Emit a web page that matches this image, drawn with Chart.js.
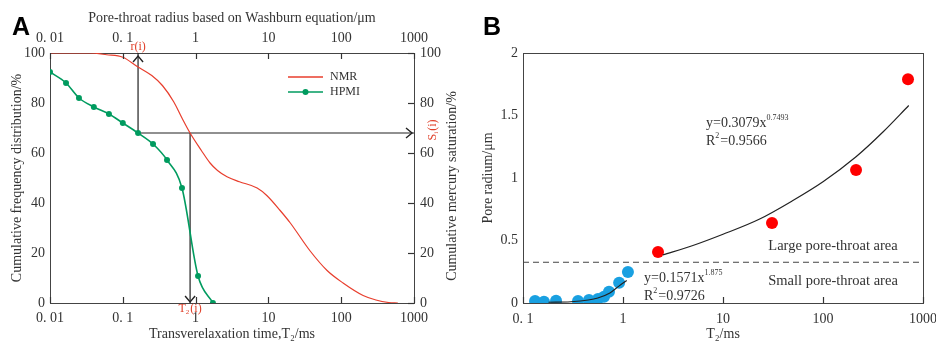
<!DOCTYPE html>
<html>
<head>
<meta charset="UTF-8">
<title>NMR T2 vs pore-throat radius</title>
<script src="https://cdn.jsdelivr.net/npm/chart.js@4.4.0/dist/chart.umd.min.js"></script>
<style>
    body { margin: 0; background: #fff; }
    #wrapA { position: absolute; left: 0; top: 0; width: 468px; height: 345px; }
    #wrapB { position: absolute; left: 470px; top: 0; width: 466px; height: 345px; }
</style>
</head>
<body>
<div id="wrapA"><canvas id="chartA" width="468" height="345"></canvas></div>
<div id="wrapB"><canvas id="chartB" width="466" height="345"></canvas></div>

<script>
    // ---- panel A ----
    var aTicks = [0.01, 0.1, 1, 10, 100, 1000];
    var aTickLabels = ['0. 01', '0. 1', '1', '10', '100', '1000'];
    var aYTicks = [0, 20, 40, 60, 80, 100];
    var nmrT2 = [0.01, 0.02, 0.035, 0.06, 0.1, 0.16, 0.25, 0.35, 0.5, 0.65, 0.84, 1.2, 1.58, 2.0, 2.7, 4, 7, 9.5, 14.5, 20, 37, 64, 106, 200, 300, 450, 600];
    var nmrCum = [100, 100, 100, 99.3, 98.3, 94.5, 91, 87, 80.5, 74, 68, 61, 56, 53, 50.5, 48.5, 46, 43, 37, 32, 21, 13, 8, 3, 1.2, 0.2, 0];
    var hpmiRadius = [0.01, 0.0166, 0.025, 0.04, 0.0645, 0.1, 0.162, 0.26, 0.405, 0.65, 1.08, 1.73];
    var hpmiSat = [92.4, 88, 82, 78.4, 75.6, 72, 68, 63.6, 57.2, 46, 10.8, 0];
    var riValue = 0.162;   // r(i)
    var t2iValue = 0.84;   // T2(i)
    var siValue = 68;      // Si(i)

    // ---- panel B ----
    var bTicks = [0.1, 1, 10, 100, 1000];
    var bTickLabels = ['0. 1', '1', '10', '100', '1000'];
    var smallT2 = [0.132, 0.162, 0.214, 0.355, 0.457, 0.562, 0.646, 0.724, 0.915, 1.12];
    var smallR = [0.016, 0.010, 0.018, 0.016, 0.024, 0.032, 0.05, 0.09, 0.162, 0.248];
    var largeT2 = [2.24, 30.9, 214, 708];
    var largeR = [0.408, 0.64, 1.064, 1.79];
    var smallFitT2 = [0.18, 0.3, 0.45, 0.56, 0.74, 0.91, 1.09];
    var smallFitR = [0.006, 0.01, 0.024, 0.04, 0.08, 0.135, 0.18];
    var largeFitT2 = [2.5, 5, 10, 23, 50, 100, 214, 400, 720];
    var largeFitR = [0.385, 0.46, 0.55, 0.67, 0.82, 0.97, 1.17, 1.37, 1.58];
    var boundaryR = 0.326;

    var SERIF = '"Liberation Serif", "Times New Roman", serif';
    var TXT = '#333';
    var AXIS = '#444';

    Chart.defaults.font.family = SERIF;
    Chart.defaults.font.size = 14;
    Chart.defaults.color = TXT;

    function pts(xs, ys) {
        var out = [];
        for (var i = 0; i < xs.length; i++) out.push({x: xs[i], y: ys[i]});
        return out;
    }

    function fixSize(prop, val) {
        return function (scale) {
            scale[prop] = val;
            scale.paddingLeft = 0; scale.paddingRight = 0;
            scale.paddingTop = 0; scale.paddingBottom = 0;
        };
    }

    function logAxis(pos, ticks, labels, size, pad, title, titlePad) {
        return {
            type: 'logarithmic', position: pos,
            min: ticks[0], max: ticks[ticks.length - 1],
            afterBuildTicks: function (s) { s.ticks = ticks.map(function (v) { return {value: v}; }); },
            afterFit: fixSize('height', size),
            ticks: {
                padding: pad, maxRotation: 0, autoSkip: false,
                callback: function (v) { var i = ticks.indexOf(v); return i < 0 ? '' : labels[i]; }
            },
            grid: {drawOnChartArea: false, drawTicks: false, color: AXIS},
            border: {color: AXIS, width: 1},
            title: {display: !!title, text: title, padding: titlePad}
        };
    }

    // short tick marks pointing into the plot: [scaleId, side, values]
    function drawInnerTicks(chart, list) {
        var ctx = chart.ctx, a = chart.chartArea;
        ctx.save();
        ctx.strokeStyle = '#333';
        ctx.lineWidth = 1.2;
        ctx.setLineDash([]);
        list.forEach(function (item) {
            var s = chart.scales[item[0]], side = item[1];
            item[2].forEach(function (v) {
                var p = Math.round(s.getPixelForValue(v)) + 0.5;
                ctx.beginPath();
                if (side === 'bottom') { ctx.moveTo(p, a.bottom); ctx.lineTo(p, a.bottom - 6); }
                if (side === 'top') { ctx.moveTo(p, a.top); ctx.lineTo(p, a.top + 6); }
                if (side === 'right') { ctx.moveTo(a.right, p); ctx.lineTo(a.right - 6, p); }
                ctx.stroke();
            });
        });
        ctx.restore();
    }

    function chevron(ctx, x, y, dir) {
        var s = 5;
        ctx.beginPath();
        if (dir === 'up') { ctx.moveTo(x - s, y + s + 1); ctx.lineTo(x, y); ctx.lineTo(x + s, y + s + 1); }
        if (dir === 'down') { ctx.moveTo(x - s, y - s - 1); ctx.lineTo(x, y); ctx.lineTo(x + s, y - s - 1); }
        if (dir === 'right') { ctx.moveTo(x - s - 1, y - s); ctx.lineTo(x, y); ctx.lineTo(x - s - 1, y + s); }
        ctx.stroke();
    }

    // draws text pieces left to right, {t, sub, sup}
    function rich(ctx, x, y, parts, size) {
        ctx.textBaseline = 'middle';
        ctx.textAlign = 'left';
        for (var i = 0; i < parts.length; i++) {
            var p = parts[i];
            var fs = (p.sub || p.sup) ? Math.round(size * 0.6) : size;
            var dy = p.sup ? -size * 0.38 : (p.sub ? size * 0.3 : 0);
            ctx.font = fs + 'px ' + SERIF;
            ctx.fillText(p.t, x, y + dy);
            x += ctx.measureText(p.t).width + (p.sup || p.sub ? 1 : 0);
        }
        return x;
    }
    function richWidth(ctx, parts, size) {
        var w = 0;
        for (var i = 0; i < parts.length; i++) {
            var p = parts[i];
            var fs = (p.sub || p.sup) ? Math.round(size * 0.6) : size;
            ctx.font = fs + 'px ' + SERIF;
            w += ctx.measureText(p.t).width + (p.sup || p.sub ? 1 : 0);
        }
        return w;
    }

    var annotA = {
        id: 'annotA',
        afterDatasetsDraw: function (chart) {
            var ctx = chart.ctx, xs = chart.scales.x, ys = chart.scales.y, a = chart.chartArea;
            var xr = xs.getPixelForValue(riValue), xt = xs.getPixelForValue(t2iValue);
            var ySi = ys.getPixelForValue(siValue);

            drawInnerTicks(chart, [['x', 'bottom', aTicks], ['x2', 'top', aTicks], ['y2', 'right', aYTicks]]);

            ctx.save();
            ctx.strokeStyle = '#222';
            ctx.lineWidth = 1.4;
            chevron(ctx, xr, a.top + 3, 'up');
            chevron(ctx, a.right - 2, ySi, 'right');
            chevron(ctx, xt, a.bottom - 1, 'down');

            ctx.fillStyle = '#e0402a';
            ctx.font = '12px ' + SERIF;
            ctx.textAlign = 'center';
            ctx.textBaseline = 'middle';
            ctx.fillText('r(i)', xr, a.top - 6);
            var t2p = [{t: 'T'}, {t: '2', sub: true}, {t: '(i)'}];
            rich(ctx, xt - richWidth(ctx, t2p, 12) / 2, a.bottom + 6, t2p, 12);
            ctx.save();
            ctx.translate(a.right + 19, ySi - 3);
            ctx.rotate(-Math.PI / 2);
            var sip = [{t: 'S'}, {t: 'i', sub: true}, {t: '(i)'}];
            rich(ctx, -richWidth(ctx, sip, 12) / 2, 0, sip, 12);
            ctx.restore();

            // legend
            var lx = a.left + 238, ly1 = a.top + 24, ly2 = a.top + 39;
            ctx.lineWidth = 1.3;
            ctx.strokeStyle = 'rgb(232,62,45)';
            ctx.beginPath(); ctx.moveTo(lx, ly1); ctx.lineTo(lx + 35, ly1); ctx.stroke();
            ctx.strokeStyle = 'rgb(0,155,95)';
            ctx.lineWidth = 1.6;
            ctx.beginPath(); ctx.moveTo(lx, ly2); ctx.lineTo(lx + 35, ly2); ctx.stroke();
            ctx.fillStyle = 'rgb(0,155,95)';
            ctx.beginPath(); ctx.arc(lx + 17.5, ly2, 3, 0, Math.PI * 2); ctx.fill();
            ctx.fillStyle = TXT;
            ctx.font = '12px ' + SERIF;
            ctx.textAlign = 'left';
            ctx.fillText('NMR', lx + 42, ly1);
            ctx.fillText('HPMI', lx + 42, ly2);

            // right axis title, reading upwards
            ctx.save();
            ctx.translate(452, (a.top + a.bottom) / 2 + 8);
            ctx.rotate(-Math.PI / 2);
            ctx.font = '14px ' + SERIF;
            ctx.textAlign = 'center';
            ctx.fillText('Cumulative mercury saturation/%', 0, 0);
            ctx.restore();

            ctx.fillStyle = '#000';
            ctx.font = 'bold 25px "Liberation Sans", Arial, sans-serif';
            ctx.textAlign = 'left';
            ctx.textBaseline = 'alphabetic';
            ctx.fillText('A', 12, 35);
            ctx.restore();
        }
    };

    new Chart(document.getElementById('chartA'), {
        type: 'scatter',
        data: {
            datasets: [
                {label: 'NMR', data: pts(nmrT2, nmrCum), showLine: true, borderColor: 'rgb(232,62,45)', borderWidth: 1.2,
                    pointRadius: 0, cubicInterpolationMode: 'monotone', yAxisID: 'y'},
                {label: 'HPMI', data: pts(hpmiRadius, hpmiSat), showLine: true, borderColor: 'rgb(0,155,95)', borderWidth: 1.6,
                    pointRadius: 3, pointBackgroundColor: 'rgb(0,155,95)', pointBorderWidth: 0, cubicInterpolationMode: 'monotone', yAxisID: 'y2'},
                {label: 'guide1', data: [{x: riValue, y: 100}, {x: riValue, y: siValue}, {x: 1000, y: siValue}], showLine: true,
                    borderColor: '#222', borderWidth: 1.2, pointRadius: 0, tension: 0, yAxisID: 'y'},
                {label: 'guide2', data: [{x: t2iValue, y: siValue}, {x: t2iValue, y: 0}], showLine: true,
                    borderColor: '#222', borderWidth: 1.2, pointRadius: 0, tension: 0, yAxisID: 'y'}
            ]
        },
        options: {
            responsive: false, animation: false,
            layout: {padding: 0},
            plugins: {legend: {display: false}, tooltip: {enabled: false}},
            scales: {
                x: logAxis('bottom', aTicks, aTickLabels, 42, 7, 'Transverelaxation time,T\u2082/ms', {top: 0, bottom: 2}),
                x2: logAxis('top', aTicks, aTickLabels, 53, 6, 'Pore-throat radius based on Washburn equation/\u03bcm', {top: 10, bottom: 0}),
                y: {
                    type: 'linear', position: 'left', min: 0, max: 100,
                    afterFit: fixSize('width', 50),
                    ticks: {stepSize: 20, padding: 5},
                    grid: {drawOnChartArea: false, drawTicks: false, color: AXIS},
                    border: {color: AXIS, width: 1},
                    title: {display: true, text: 'Cumulative frequency distribution/%', padding: {top: 9, bottom: 0}}
                },
                y2: {
                    type: 'linear', position: 'right', min: 0, max: 100,
                    afterFit: fixSize('width', 54),
                    ticks: {stepSize: 20, padding: 6},
                    grid: {drawOnChartArea: false, drawTicks: false, color: AXIS},
                    border: {color: AXIS, width: 1}
                }
            }
        },
        plugins: [annotA]
    });

    var annotB = {
        id: 'annotB',
        afterDatasetsDraw: function (chart) {
            var ctx = chart.ctx, a = chart.chartArea;
            drawInnerTicks(chart, [['x', 'bottom', bTicks]]);
            ctx.save();
            ctx.fillStyle = TXT;
            rich(ctx, a.left + 183, a.top + 70, [{t: 'y=0.3079x'}, {t: '0.7493', sup: true}], 14);
            rich(ctx, a.left + 183, a.top + 88, [{t: 'R'}, {t: '2', sup: true}, {t: '=0.9566'}], 14);
            rich(ctx, a.left + 121, a.top + 225, [{t: 'y=0.1571x'}, {t: '1.875', sup: true}], 14);
            rich(ctx, a.left + 121, a.top + 243, [{t: 'R'}, {t: '2', sup: true}, {t: '=0.9726'}], 14);
            ctx.font = '14.5px ' + SERIF;
            ctx.textAlign = 'center';
            ctx.fillText('Large pore-throat area', a.left + 310, a.top + 193);
            ctx.fillText('Small pore-throat area', a.left + 310, a.top + 228);

            ctx.fillStyle = '#000';
            ctx.font = 'bold 25px "Liberation Sans", Arial, sans-serif';
            ctx.textAlign = 'left';
            ctx.textBaseline = 'alphabetic';
            ctx.fillText('B', 13, 35);
            ctx.restore();
        }
    };

    new Chart(document.getElementById('chartB'), {
        type: 'scatter',
        data: {
            datasets: [
                {label: 'boundary', data: [{x: 0.1, y: boundaryR}, {x: 1000, y: boundaryR}], showLine: true,
                    borderColor: '#444', borderWidth: 1.1, borderDash: [6, 4], pointRadius: 0},
                {label: 'small fit', data: pts(smallFitT2, smallFitR), showLine: true, borderColor: '#222', borderWidth: 1.2,
                    pointRadius: 0, cubicInterpolationMode: 'monotone'},
                {label: 'large fit', data: pts(largeFitT2, largeFitR), showLine: true, borderColor: '#222', borderWidth: 1.2,
                    pointRadius: 0, cubicInterpolationMode: 'monotone'},
                {label: 'small pores', data: pts(smallT2, smallR), pointRadius: 6, pointBackgroundColor: 'rgb(25,160,225)',
                    pointBorderWidth: 0},
                {label: 'large pores', data: pts(largeT2, largeR), pointRadius: 6, pointBackgroundColor: 'rgb(255,0,0)',
                    pointBorderWidth: 0}
            ]
        },
        options: {
            responsive: false, animation: false,
            layout: {padding: 0},
            plugins: {legend: {display: false}, tooltip: {enabled: false}},
            scales: {
                x: logAxis('bottom', bTicks, bTickLabels, 42, 8, 'T\u2082/ms', {top: 0, bottom: 2}),
                xTop: {
                    type: 'linear', position: 'top', min: 0, max: 1,
                    afterFit: fixSize('height', 53),
                    ticks: {display: false},
                    grid: {drawOnChartArea: false, drawTicks: false},
                    border: {color: AXIS, width: 1}
                },
                y: {
                    type: 'linear', position: 'left', min: 0, max: 2,
                    afterFit: fixSize('width', 53),
                    ticks: {stepSize: 0.5, padding: 5, callback: function (v) { return String(v); }},
                    grid: {drawOnChartArea: false, drawTicks: false},
                    border: {color: AXIS, width: 1},
                    title: {display: true, text: 'Pore radium/\u03bcm', padding: {top: 10, bottom: 0}}
                },
                yRight: {
                    type: 'linear', position: 'right', min: 0, max: 1,
                    afterFit: fixSize('width', 13),
                    ticks: {display: false},
                    grid: {drawOnChartArea: false, drawTicks: false},
                    border: {color: AXIS, width: 1}
                }
            }
        },
        plugins: [annotB]
    });
</script>
</body>
</html>
